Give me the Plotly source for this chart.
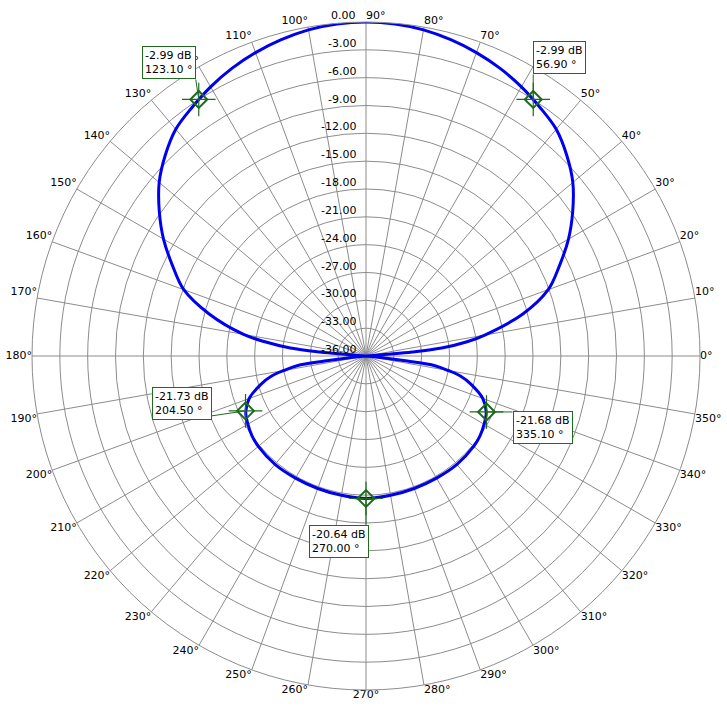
import plotly.graph_objects as go
import math

# ---------------- data ----------------
pattern_angle_deg = [
    0, 3, 5, 6, 8, 10, 15, 20, 25, 30, 35, 40, 45, 50, 55, 60, 65, 70, 75, 80, 85, 90,
    95, 100, 105, 110, 115, 120, 125, 130, 135, 140, 145, 150, 155, 160, 165, 170, 172, 174, 175, 177, 180,
    184, 186, 187, 188, 190, 192, 195, 200, 205, 210, 215, 220, 230, 240, 250, 260, 270,
    280, 290, 300, 310, 320, 325, 330, 335, 340, 345, 348, 350, 352, 353, 354, 356, 360,
]
pattern_db = [
    -36.0, -36.0, -31.0, -27.8, -25.0, -23.0, -18.5, -15.1, -13.0, -10.8, -8.8, -6.9, -5.4, -4.1, -3.3, -2.5, -1.8, -1.2, -0.7, -0.3, -0.08, 0.0,
    -0.08, -0.3, -0.7, -1.2, -1.8, -2.5, -3.3, -4.1, -5.4, -6.9, -8.8, -10.8, -13.0, -15.1, -18.5, -22.6, -25.0, -27.8, -31.0, -36.0, -36.0,
    -36.0, -34.0, -31.5, -28.5, -27.0, -25.6, -24.3, -22.6, -21.7, -21.3, -21.0, -20.85, -20.75, -20.8, -20.8, -20.75, -20.64,
    -20.75, -20.8, -20.8, -20.75, -20.85, -21.0, -21.3, -21.7, -22.6, -24.3, -25.6, -27.0, -28.5, -31.5, -34.0, -36.0, -36.0,
]

marker_angle_deg = [123.1, 56.9, 204.5, 335.1, 270.0]
marker_db = [-2.99, -2.99, -21.73, -21.68, -20.64]

radial_tick_vals = [0, -3, -6, -9, -12, -15, -18, -21, -24, -27, -30, -33, -36]
radial_tick_labels = ["0.00", "-3.00", "-6.00", "-9.00", "-12.00", "-15.00", "-18.00",
                      "-21.00", "-24.00", "-27.00", "-30.00", "-33.00", "-36.00"]
radial_label_angle = 90
angular_tick_vals = list(range(0, 360, 10))
angular_tick_labels = [f"{a}°" for a in angular_tick_vals]

R_MIN, R_MAX = -36, 0

# ---------------- style ----------------
FONT = "DejaVu Sans"
GRID = "#8c8c8c"
GREEN = "#1d6a1d"
BOX_GREEN = "#1f6b1f"
BLUE = "#0000f0"


def angle_label_position(a):
    if a == 0:
        return "middle right"
    if a == 180:
        return "middle left"
    if a == 270:
        return "bottom center"
    if 0 < a <= 90:
        return "top right"
    if 90 < a < 180:
        return "top left"
    if 180 < a < 270:
        return "bottom left"
    return "bottom right"


# box placement per marker: (xanchor, yanchor, xshift, yshift, leader end x, leader end y) in pixels
box_style = [
    ("right", "bottom", -3, 20, -3, 20),
    ("left", "bottom", 0, 25, 0, 25),
    ("right", "bottom", -34, -9, -34, -5),
    ("left", "top", 26, 1, 26, 0),
    ("left", "top", -57, -26, 0, -26),
]

fig = go.Figure()

fig.add_trace(go.Scatterpolar(
    r=pattern_db, theta=pattern_angle_deg, mode="lines",
    line=dict(color=BLUE, width=3, shape="spline", smoothing=1.0),
    hoverinfo="skip", showlegend=False,
))

fig.add_trace(go.Scatterpolar(
    r=[R_MAX] * len(angular_tick_vals), theta=angular_tick_vals, mode="text",
    text=angular_tick_labels,
    textposition=[angle_label_position(a) for a in angular_tick_vals],
    textfont=dict(family=FONT, size=11, color="black"),
    hoverinfo="skip", showlegend=False, cliponaxis=False,
))

fig.add_trace(go.Scatterpolar(
    r=marker_db, theta=marker_angle_deg, mode="markers",
    marker=dict(symbol="cross-thin-open", size=24, color=GREEN, line=dict(color=GREEN, width=1.2)),
    hoverinfo="skip", showlegend=False, cliponaxis=False,
))
fig.add_trace(go.Scatterpolar(
    r=marker_db, theta=marker_angle_deg, mode="markers",
    marker=dict(symbol="diamond-open", size=13, color=GREEN, line=dict(color=GREEN, width=2)),
    hoverinfo="skip", showlegend=False, cliponaxis=False,
))


def to_paper(db, ang):
    frac = (db - R_MIN) / (R_MAX - R_MIN)
    a = math.radians(ang)
    return 0.5 + 0.5 * frac * math.cos(a), 0.5 + 0.5 * frac * math.sin(a)


annotations = []
shapes = []

# radial tick labels, placed left of the 90° spoke just above each ring
for v, lab in zip(radial_tick_vals, radial_tick_labels):
    px, py = to_paper(v, radial_label_angle)
    annotations.append(dict(
        x=px, y=py, xref="paper", yref="paper", showarrow=False, text=lab,
        xanchor="right", yanchor="bottom", xshift=-8, yshift=-2,
        font=dict(family=FONT, size=11, color="black"),
    ))

for db, ang, (xa, ya, xs, ys, lx, ly) in zip(marker_db, marker_angle_deg, box_style):
    px, py = to_paper(db, ang)
    annotations.append(dict(
        x=px, y=py, xref="paper", yref="paper", showarrow=False,
        text=f"{db:.2f} dB<br>{ang:.2f} °", align="left",
        xanchor=xa, yanchor=ya, xshift=xs, yshift=ys,
        font=dict(family=FONT, size=11, color="black"),
        bgcolor="white", bordercolor=BOX_GREEN, borderwidth=1, borderpad=2,
    ))
    shapes.append(dict(
        type="line", xref="paper", yref="paper",
        xsizemode="pixel", ysizemode="pixel", xanchor=px, yanchor=py,
        x0=0, y0=0, x1=lx, y1=ly,
        line=dict(color=BOX_GREEN, width=1),
    ))

fig.update_layout(
    width=727, height=708,
    margin=dict(l=32, r=27, t=22, b=18),
    paper_bgcolor="white",
    font=dict(family=FONT, size=11, color="black"),
    showlegend=False,
    annotations=annotations,
    shapes=shapes,
    polar=dict(
        domain=dict(x=[0, 1], y=[0, 1]),
        bgcolor="white",
        angularaxis=dict(
            rotation=0, direction="counterclockwise",
            tickmode="array", tickvals=angular_tick_vals,
            showticklabels=False,
            ticks="", showline=True, linecolor=GRID, linewidth=1,
            showgrid=True, gridcolor=GRID, gridwidth=1,
        ),
        radialaxis=dict(
            range=[R_MIN, R_MAX], tickmode="array", tickvals=radial_tick_vals,
            showticklabels=False, ticks="", showline=False,
            showgrid=True, gridcolor=GRID, gridwidth=1, angle=90,
        ),
    ),
)

fig.write_html(
    "out.html",
    config={"displayModeBar": False},
    post_script="document.body.style.margin='0';document.body.style.padding='0';document.body.style.overflow='hidden';",
)
